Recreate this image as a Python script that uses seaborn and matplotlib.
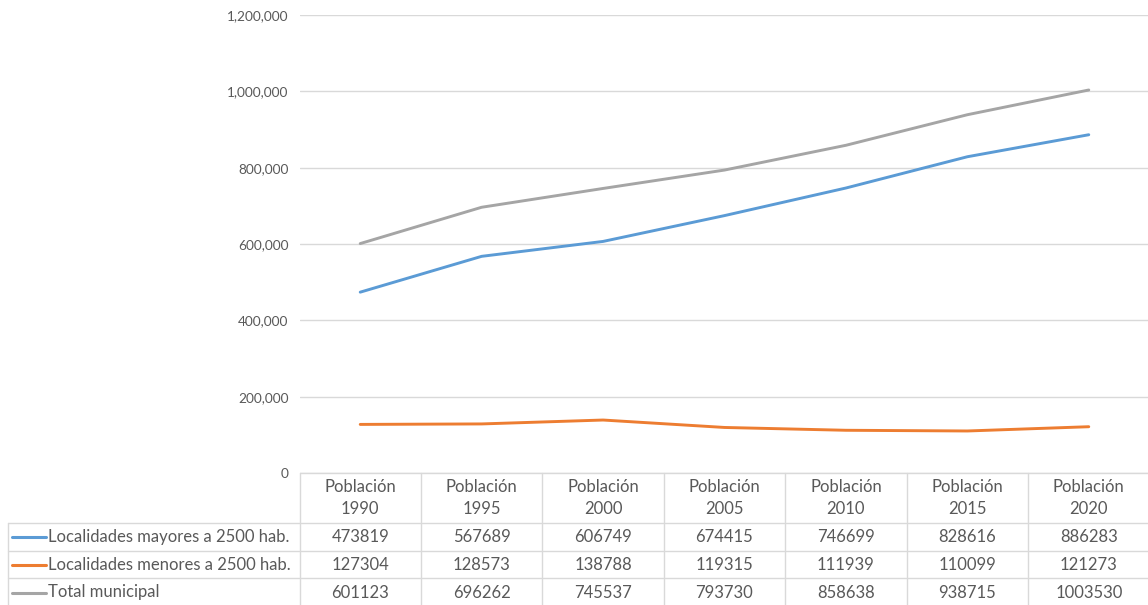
import numpy as np
import pandas as pd
import seaborn as sns
import matplotlib
import matplotlib.pyplot as plt
from matplotlib.ticker import FuncFormatter

sns.set_style('white')
matplotlib.rcParams['font.family'] = ['Lato', 'DejaVu Sans']

# ---------------- data ----------------
years = ['1990', '1995', '2000', '2005', '2010', '2015', '2020']
col_labels = ['Población\n' + y for y in years]
mayores = [473819, 567689, 606749, 674415, 746699, 828616, 886283]
menores = [127304, 128573, 138788, 119315, 111939, 110099, 121273]
total = [601123, 696262, 745537, 793730, 858638, 938715, 1003530]
series_names = ['Localidades mayores a 2500 hab.',
                'Localidades menores a 2500 hab.',
                'Total municipal']
colors = ['#5B9BD5', '#ED7D31', '#A5A5A5']
yticks = [0, 200000, 400000, 600000, 800000, 1000000, 1200000]

df = pd.DataFrame({
    'col': list(range(len(years))) * 3,
    'valor': mayores + menores + total,
    'serie': [series_names[0]] * 7 + [series_names[1]] * 7 + [series_names[2]] * 7,
})

W, H = 1148, 605
fig = plt.figure(figsize=(W / 100, H / 100), dpi=100)
fig.patch.set_facecolor('white')

# plot area in pixels
x0, x1 = 299.5, 1149.5
ytop, ybot = 15, 473
ax = fig.add_axes([x0 / W, 1 - ybot / H, (x1 - x0) / W, (ybot - ytop) / H])

sns.lineplot(data=df, x='col', y='valor', hue='serie', palette=colors,
             linewidth=2.1, legend=False, ax=ax, zorder=3)

ax.set_xlim(-0.5, len(years) - 0.5)
ax.set_ylim(0, 1200000)
ax.set_yticks(yticks)
ax.yaxis.set_major_formatter(FuncFormatter(lambda v, p: f'{int(v):,}'))
ax.tick_params(axis='y', length=0, pad=8, labelsize=9.8, labelcolor='#595959')
ax.set_xticks([])
ax.set_xlabel('')
ax.set_ylabel('')
ax.grid(axis='y', color='#D9D9D9', linewidth=1.0)
for s in ax.spines.values():
    s.set_visible(False)

# ---------------- data table ----------------
gc = '#D9D9D9'
tc = '#595959'
fs = 12
colw = (x1 - x0) / len(years)
rows_y = [473, 523, 550.5, 578, 606]


def fx(px):
    return px / W


def fy(py):
    return 1 - py / H


# horizontal lines
fig.add_artist(plt.Line2D([fx(x0), fx(x1)], [fy(rows_y[0])] * 2, color=gc, lw=1))
for yy in rows_y[1:4]:
    fig.add_artist(plt.Line2D([fx(8), fx(x1)], [fy(yy)] * 2, color=gc, lw=1))
# vertical lines
for i in range(len(years) + 1):
    xx = x0 + i * colw
    fig.add_artist(plt.Line2D([fx(xx)] * 2, [fy(rows_y[0]), fy(rows_y[4])], color=gc, lw=1))
fig.add_artist(plt.Line2D([fx(8)] * 2, [fy(rows_y[1]), fy(rows_y[4])], color=gc, lw=1))

# header
for i, lab in enumerate(col_labels):
    cx = x0 + (i + 0.5) * colw
    fig.text(fx(cx), fy(498), lab, ha='center', va='center',
             fontsize=fs, color=tc, linespacing=1.45)

# rows
for r, (name, vals, c) in enumerate(zip(series_names, [mayores, menores, total], colors)):
    cy = (rows_y[r + 1] + rows_y[r + 2]) / 2 + 0.5
    fig.add_artist(plt.Line2D([fx(12), fx(46)], [fy(cy)] * 2, color=c, lw=2.2))
    fig.text(fx(48), fy(cy), name, ha='left', va='center', fontsize=fs, color=tc)
    for i, v in enumerate(vals):
        cx = x0 + (i + 0.5) * colw
        fig.text(fx(cx), fy(cy), str(v), ha='center', va='center', fontsize=fs, color=tc)

fig.savefig('out.png', dpi=100, facecolor='white')
